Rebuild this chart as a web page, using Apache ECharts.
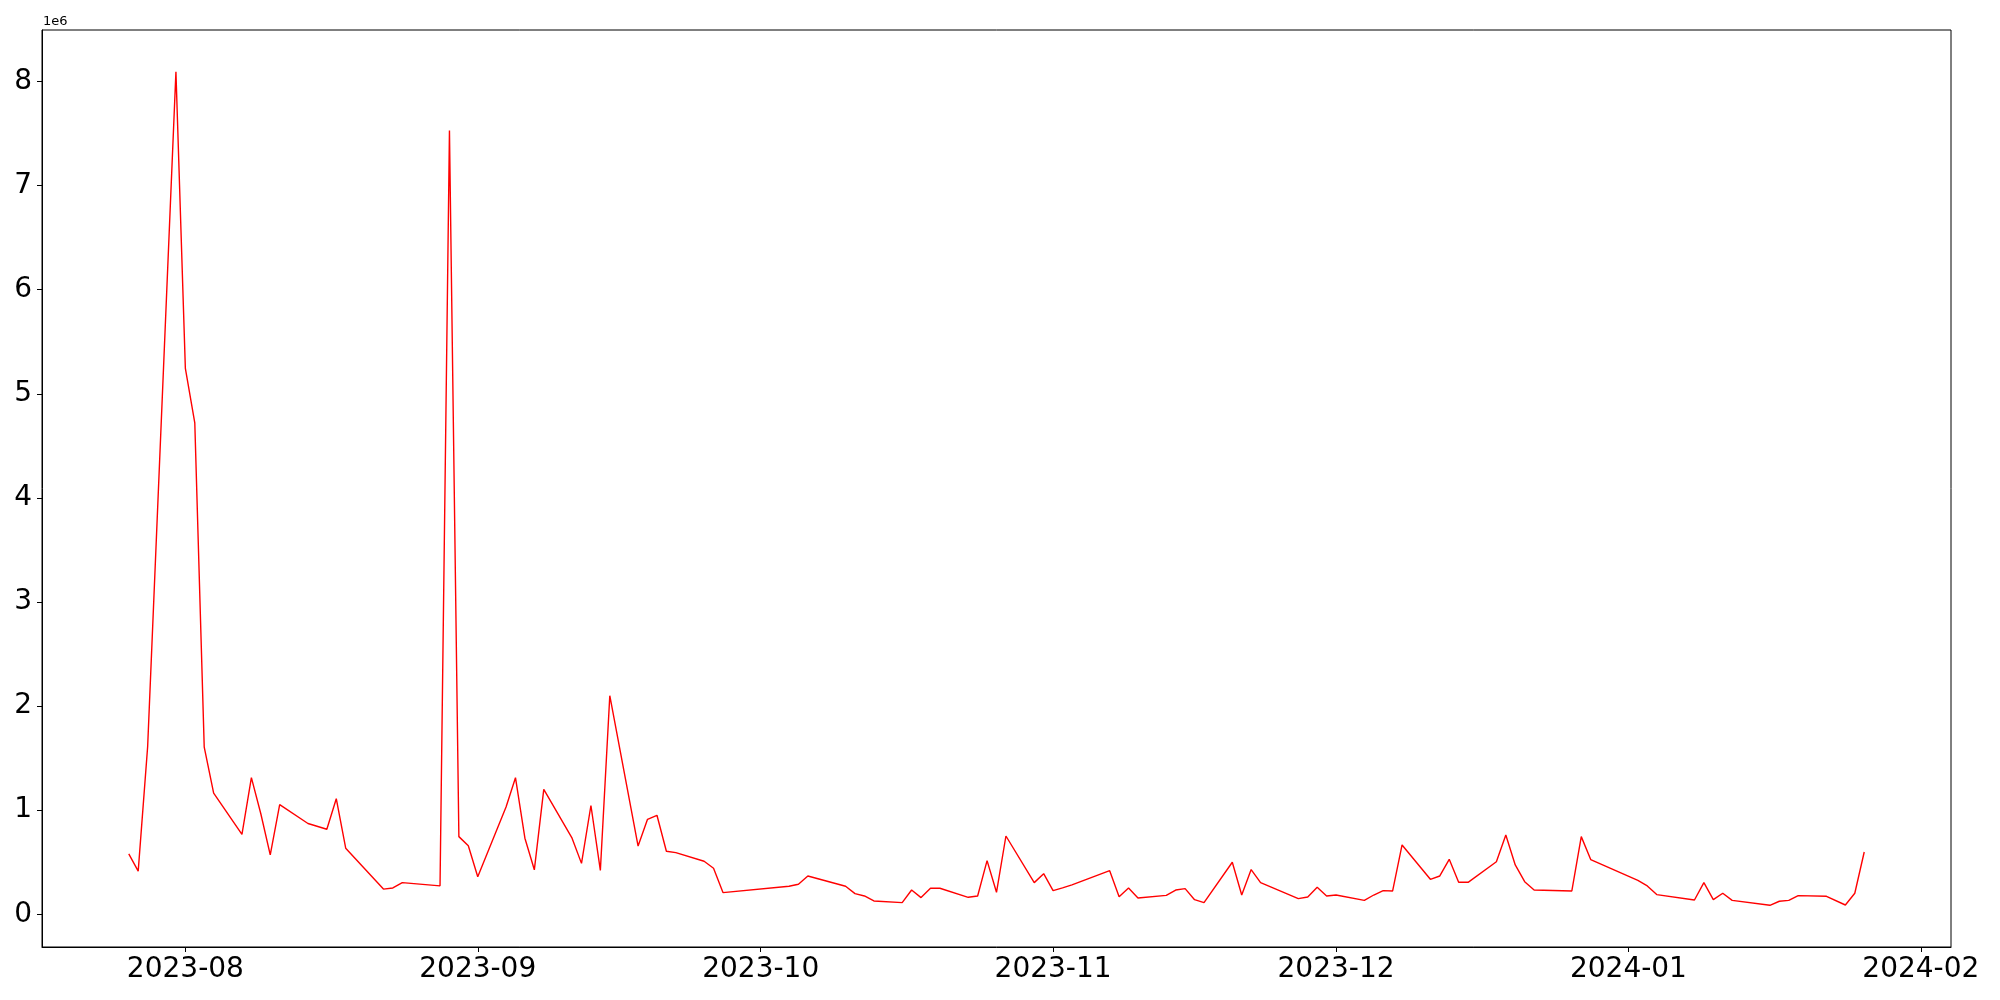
<!DOCTYPE html>
<html><head><meta charset="utf-8">
<script src="https://cdn.jsdelivr.net/npm/echarts@6/dist/echarts.min.js"></script>
<style>html,body{margin:0;padding:0;background:#fff}#c{width:2000px;height:1000px}</style>
</head><body><div id="c"></div>
<script>
const dates = [
'2023-07-26','2023-07-27','2023-07-28','2023-07-31','2023-08-01','2023-08-02','2023-08-03','2023-08-04',
'2023-08-07','2023-08-08','2023-08-09','2023-08-10','2023-08-11','2023-08-14','2023-08-16','2023-08-17','2023-08-18',
'2023-08-22','2023-08-23','2023-08-24','2023-08-28','2023-08-29','2023-08-30','2023-08-31','2023-09-01',
'2023-09-04','2023-09-05','2023-09-06','2023-09-07','2023-09-08','2023-09-11','2023-09-12','2023-09-13','2023-09-14','2023-09-15',
'2023-09-18','2023-09-19','2023-09-20','2023-09-21','2023-09-22','2023-09-25','2023-09-26','2023-09-27',
'2023-10-04','2023-10-05','2023-10-06','2023-10-10','2023-10-11','2023-10-12','2023-10-13',
'2023-10-16','2023-10-17','2023-10-18','2023-10-19','2023-10-20','2023-10-23','2023-10-24','2023-10-25','2023-10-26','2023-10-27',
'2023-10-30','2023-10-31','2023-11-01','2023-11-02','2023-11-03','2023-11-07','2023-11-08','2023-11-09','2023-11-10',
'2023-11-13','2023-11-14','2023-11-15','2023-11-16','2023-11-17','2023-11-20','2023-11-21','2023-11-22','2023-11-23',
'2023-11-27','2023-11-28','2023-11-29','2023-11-30','2023-12-01','2023-12-04','2023-12-05','2023-12-06','2023-12-07','2023-12-08',
'2023-12-11','2023-12-12','2023-12-13','2023-12-14','2023-12-15','2023-12-18','2023-12-19','2023-12-20','2023-12-21','2023-12-22',
'2023-12-26','2023-12-27','2023-12-28','2024-01-02','2024-01-03','2024-01-04','2024-01-08','2024-01-09','2024-01-10','2024-01-11','2024-01-12',
'2024-01-16','2024-01-17','2024-01-18','2024-01-19','2024-01-22','2024-01-24','2024-01-25','2024-01-26'
];
const values = [
580000,415000,1610000,8095000,5245000,4720000,1606000,1164000,
767000,1313000,966000,570000,1054000,872000,817000,1110000,635000,
242000,253000,304000,273000,7530000,746000,659000,360000,
1030000,1312000,731000,427000,1200000,731000,489000,1045000,422000,2100000,
655000,912000,951000,605000,592000,509000,442000,208000,
269000,288000,368000,269000,198000,176000,128000,
112000,233000,160000,250000,250000,163000,176000,515000,211000,752000,
304000,390000,227000,253000,282000,419000,169000,253000,157000,
182000,233000,246000,140000,112000,500000,185000,429000,304000,
150000,166000,259000,176000,185000,134000,185000,227000,224000,666000,
336000,368000,528000,307000,307000,505000,762000,474000,313000,233000,
224000,746000,526000,325000,272000,189000,137000,304000,140000,202000,134000,
86000,125000,134000,179000,173000,89000,202000,598000
];
const xTickLabels = ['2023-08','2023-09','2023-10','2023-11','2023-12','2024-01','2024-02'];
const yTickLabels = [0,1,2,3,4,5,6,7,8];
const yScaleLabel = '1e6';

function toTime(s){const p=s.split('-').map(Number);return Date.UTC(p[0],p[1]-1,p[2]||1);}
const times = dates.map(toTime);
const xSpan = times[times.length-1]-times[0];
const xMin = times[0]-0.05*xSpan, xMax = times[times.length-1]+0.05*xSpan;
const vMin = Math.min(...values), vMax = Math.max(...values);
const ySpan = vMax - vMin;
const yMin = vMin-0.05*ySpan, yMax = vMax+0.05*ySpan;
const xTicks = xTickLabels.map(toTime);
const yTicks = yTickLabels.map(v=>v*1e6);
const font = 'DejaVu Sans';

const chart = echarts.init(document.getElementById('c'), null, {renderer:'canvas'});
chart.setOption({
  animation:false,
  backgroundColor:'#fff',
  grid:{left:42,right:49,top:30,bottom:53,show:true,borderColor:'#000',borderWidth:1,backgroundColor:'transparent'},
  xAxis:{
    type:'value', min:xMin, max:xMax, scale:true,
    splitLine:{show:false},
    axisLine:{show:true,onZero:false,lineStyle:{color:'#000',width:1}},
    axisTick:{show:true,length:5,lineStyle:{color:'#000',width:1},customValues:xTicks},
    axisLabel:{customValues:xTicks,hideOverlap:false,fontSize:28,fontFamily:font,color:'#000',margin:9,
      formatter:function(v){const d=new Date(v);return d.getUTCFullYear()+'-'+String(d.getUTCMonth()+1).padStart(2,'0');}}
  },
  yAxis:{
    type:'value', min:yMin, max:yMax,
    splitLine:{show:false},
    axisLine:{show:true,onZero:false,lineStyle:{color:'#000',width:1}},
    axisTick:{show:true,length:5,lineStyle:{color:'#000',width:1},customValues:yTicks},
    axisLabel:{customValues:yTicks,fontSize:28,fontFamily:font,color:'#000',margin:10,
      formatter:function(v){return String(Math.round(v/1e6));}},
    name:yScaleLabel, nameLocation:'end', nameGap:2,
    nameTextStyle:{fontSize:13,fontFamily:font,color:'#000',align:'left',verticalAlign:'bottom',padding:[0,0,0,1]}
  },
  series:[{
    type:'line', data:times.map((t,i)=>[t,values[i]]),
    showSymbol:false, symbol:'none', silent:true,
    lineStyle:{color:'#ff0000',width:1.4}
  }]
});
</script>
</body></html>
